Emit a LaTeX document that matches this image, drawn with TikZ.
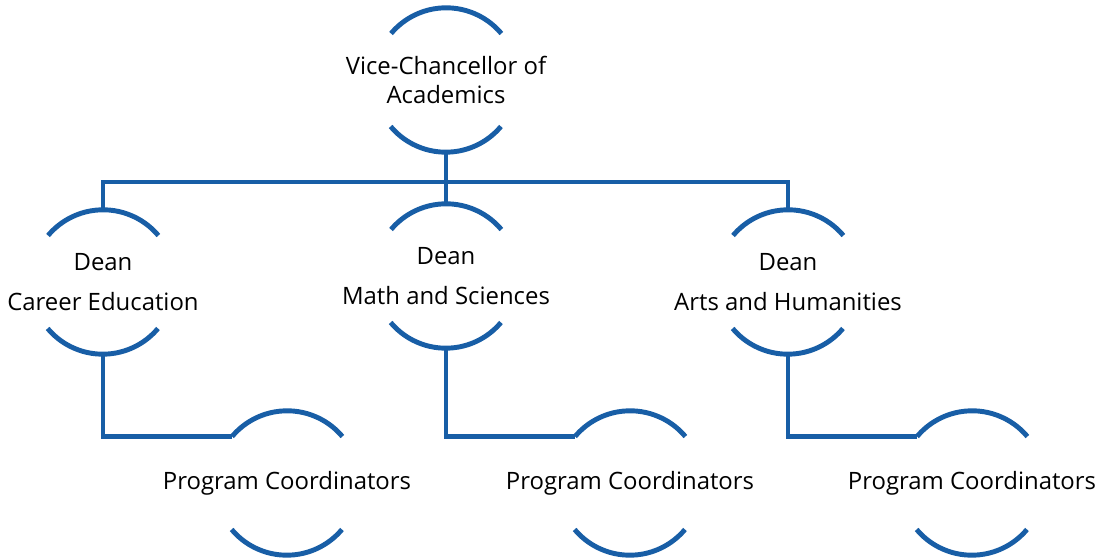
\documentclass[tikz,border=0pt]{standalone}
\usepackage{fontspec}
\setmainfont{Open Sans}
\usetikzlibrary{positioning}
\definecolor{orgblue}{RGB}{24,94,166}

\begin{document}
\begin{tikzpicture}[x=0.025cm, y=0.025cm]
\tikzstyle{unit}=[circle, minimum size=3.6cm, inner sep=0pt]
\tikzstyle{lbl}=[align=center, text=black, inner sep=0pt, font=\fontsize{17}{20.5}\selectfont]
\tikzstyle{rim}=[draw=orgblue, line width=3.5pt]
\tikzstyle{link}=[draw=orgblue, line width=3.5pt]
\useasboundingbox (0,0) rectangle (1104,558);
\node[unit, label={[lbl]center:Vice-Chancellor of\\Academics}] (vc) at (446,478) {};
\node[unit, label={[lbl]center:Dean\\[8pt]Career Education}] (dce) at (103,276) {};
\node[unit, label={[lbl]center:Dean\\[8pt]Math and Sciences}] (dms) at (446,282) {};
\node[unit, label={[lbl]center:Dean\\[8pt]Arts and Humanities}] (dah) at (788,276) {};
\node[unit, label={[lbl]center:Program Coordinators}] (pce) at (287,75) {};
\node[unit, label={[lbl]center:Program Coordinators}] (pms) at (630,75) {};
\node[unit, label={[lbl]center:Program Coordinators}] (pah) at (972,75) {};
\coordinate (bus) at (446,376);
\foreach \n in {vc,dce,dms,dah,pce,pms,pah} {
  \draw[rim] (\n.40) arc[start angle=40, end angle=140, radius=1.8cm];
  \draw[rim] (\n.220) arc[start angle=220, end angle=320, radius=1.8cm];
}
\draw[link] (vc.south) -- (bus);
\draw[link] (dce.north) |- (bus) -| (dah.north);
\draw[link] (bus) -- (dms.north);
\draw[link] (dce.south) |- (pce.140);
\draw[link] (dms.south) |- (pms.140);
\draw[link] (dah.south) |- (pah.140);
\end{tikzpicture}
\end{document}
